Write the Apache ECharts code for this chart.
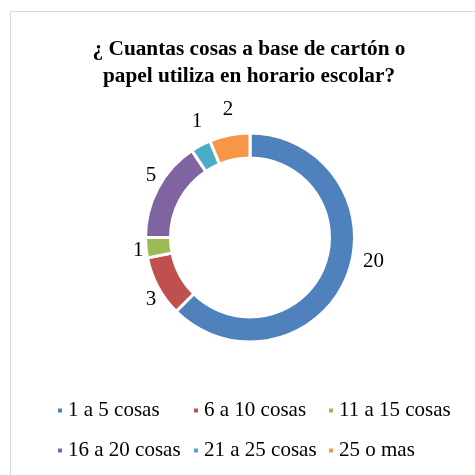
<!DOCTYPE html>
<html>
<head>
<meta charset="utf-8">
<script src="https://cdn.jsdelivr.net/npm/echarts@6/dist/echarts.min.js"></script>
<style>html,body{margin:0;padding:0;background:#fff}#c{width:475px;height:475px}</style>
</head>
<body>
<div id="c"></div>
<script>
var titleText = '¿ Cuantas cosas a base de cartón o\npapel utiliza en horario escolar?';
var categories = ['1 a 5 cosas', '6 a 10 cosas', '11 a 15 cosas', '16 a 20 cosas', '21 a 25 cosas', '25 o mas'];
var values = [20, 3, 1, 5, 1, 2];
var colors = ['#4F81BD', '#C0504D', '#9BBB59', '#8064A2', '#4BACC6', '#F79646'];
var legendColumns = [[0, 3], [1, 4], [2, 5]];

// label styling: manual nudge (as dragged in the original)
var labelNudge = [[15, -26], [0, 0], [0, 0], [0, 0], [0, 0], [0, 0]];

var serif = '"Liberation Serif", "Times New Roman", serif';
var chart = echarts.init(document.getElementById('c'));
var data = categories.map(function (c, i) { return { name: c, value: values[i] }; });
var total = values.reduce(function (a, b) { return a + b; }, 0);
var cx = 250, cy = 237.5;

function labelLayout(params) {
  var i = params.dataIndex;
  var before = 0;
  for (var k = 0; k < i; k++) before += values[k];
  var mid = (before + values[i] / 2) / total * 2 * Math.PI; // clockwise from top
  var dx = Math.sin(mid), dy = -Math.cos(mid);
  var w = params.labelRect.width;
  return {
    x: cx + dx * (107 + w / 2) + labelNudge[i][0],
    y: cy + dy * 131 + labelNudge[i][1],
    align: 'center',
    verticalAlign: 'middle'
  };
}

var legendLefts = [56, 192, 327];
var legends = legendColumns.map(function (col, k) {
  return {
    orient: 'vertical',
    left: legendLefts[k],
    top: 400,
    padding: 0,
    itemWidth: 6,
    itemHeight: 6,
    itemGap: 19,
    icon: 'rect',
    selectedMode: false,
    data: col.map(function (i) { return categories[i]; }),
    textStyle: { fontFamily: serif, fontSize: 21, color: '#000', lineHeight: 21 }
  };
});
chart.setOption({
  animation: false,
  color: colors,
  title: {
    text: titleText,
    left: 244,
    textAlign: 'center',
    top: 31,
    textStyle: { fontFamily: serif, fontSize: 21.3, fontWeight: 'bold', color: '#000', lineHeight: 27 }
  },
  graphic: [{
    type: 'rect',
    shape: { x: 10.5, y: 11.5, width: 500, height: 500 },
    style: { fill: 'none', stroke: '#d9d9d9', lineWidth: 1 },
    z: -1
  }],
  legend: legends,
  series: [{
    type: 'pie',
    center: [cx, cy],
    radius: [79.5, 104.5],
    startAngle: 90,
    clockwise: true,
    avoidLabelOverlap: false,
    itemStyle: { borderColor: '#fff', borderWidth: 3 },
    label: { show: true, position: 'outside', formatter: '{c}', fontFamily: serif, fontSize: 21, color: '#000' },
    labelLine: { show: false, length: 6, length2: 0 },
    labelLayout: labelLayout,
    emphasis: { disabled: true },
    data: data
  }]
});
</script>
</body>
</html>
